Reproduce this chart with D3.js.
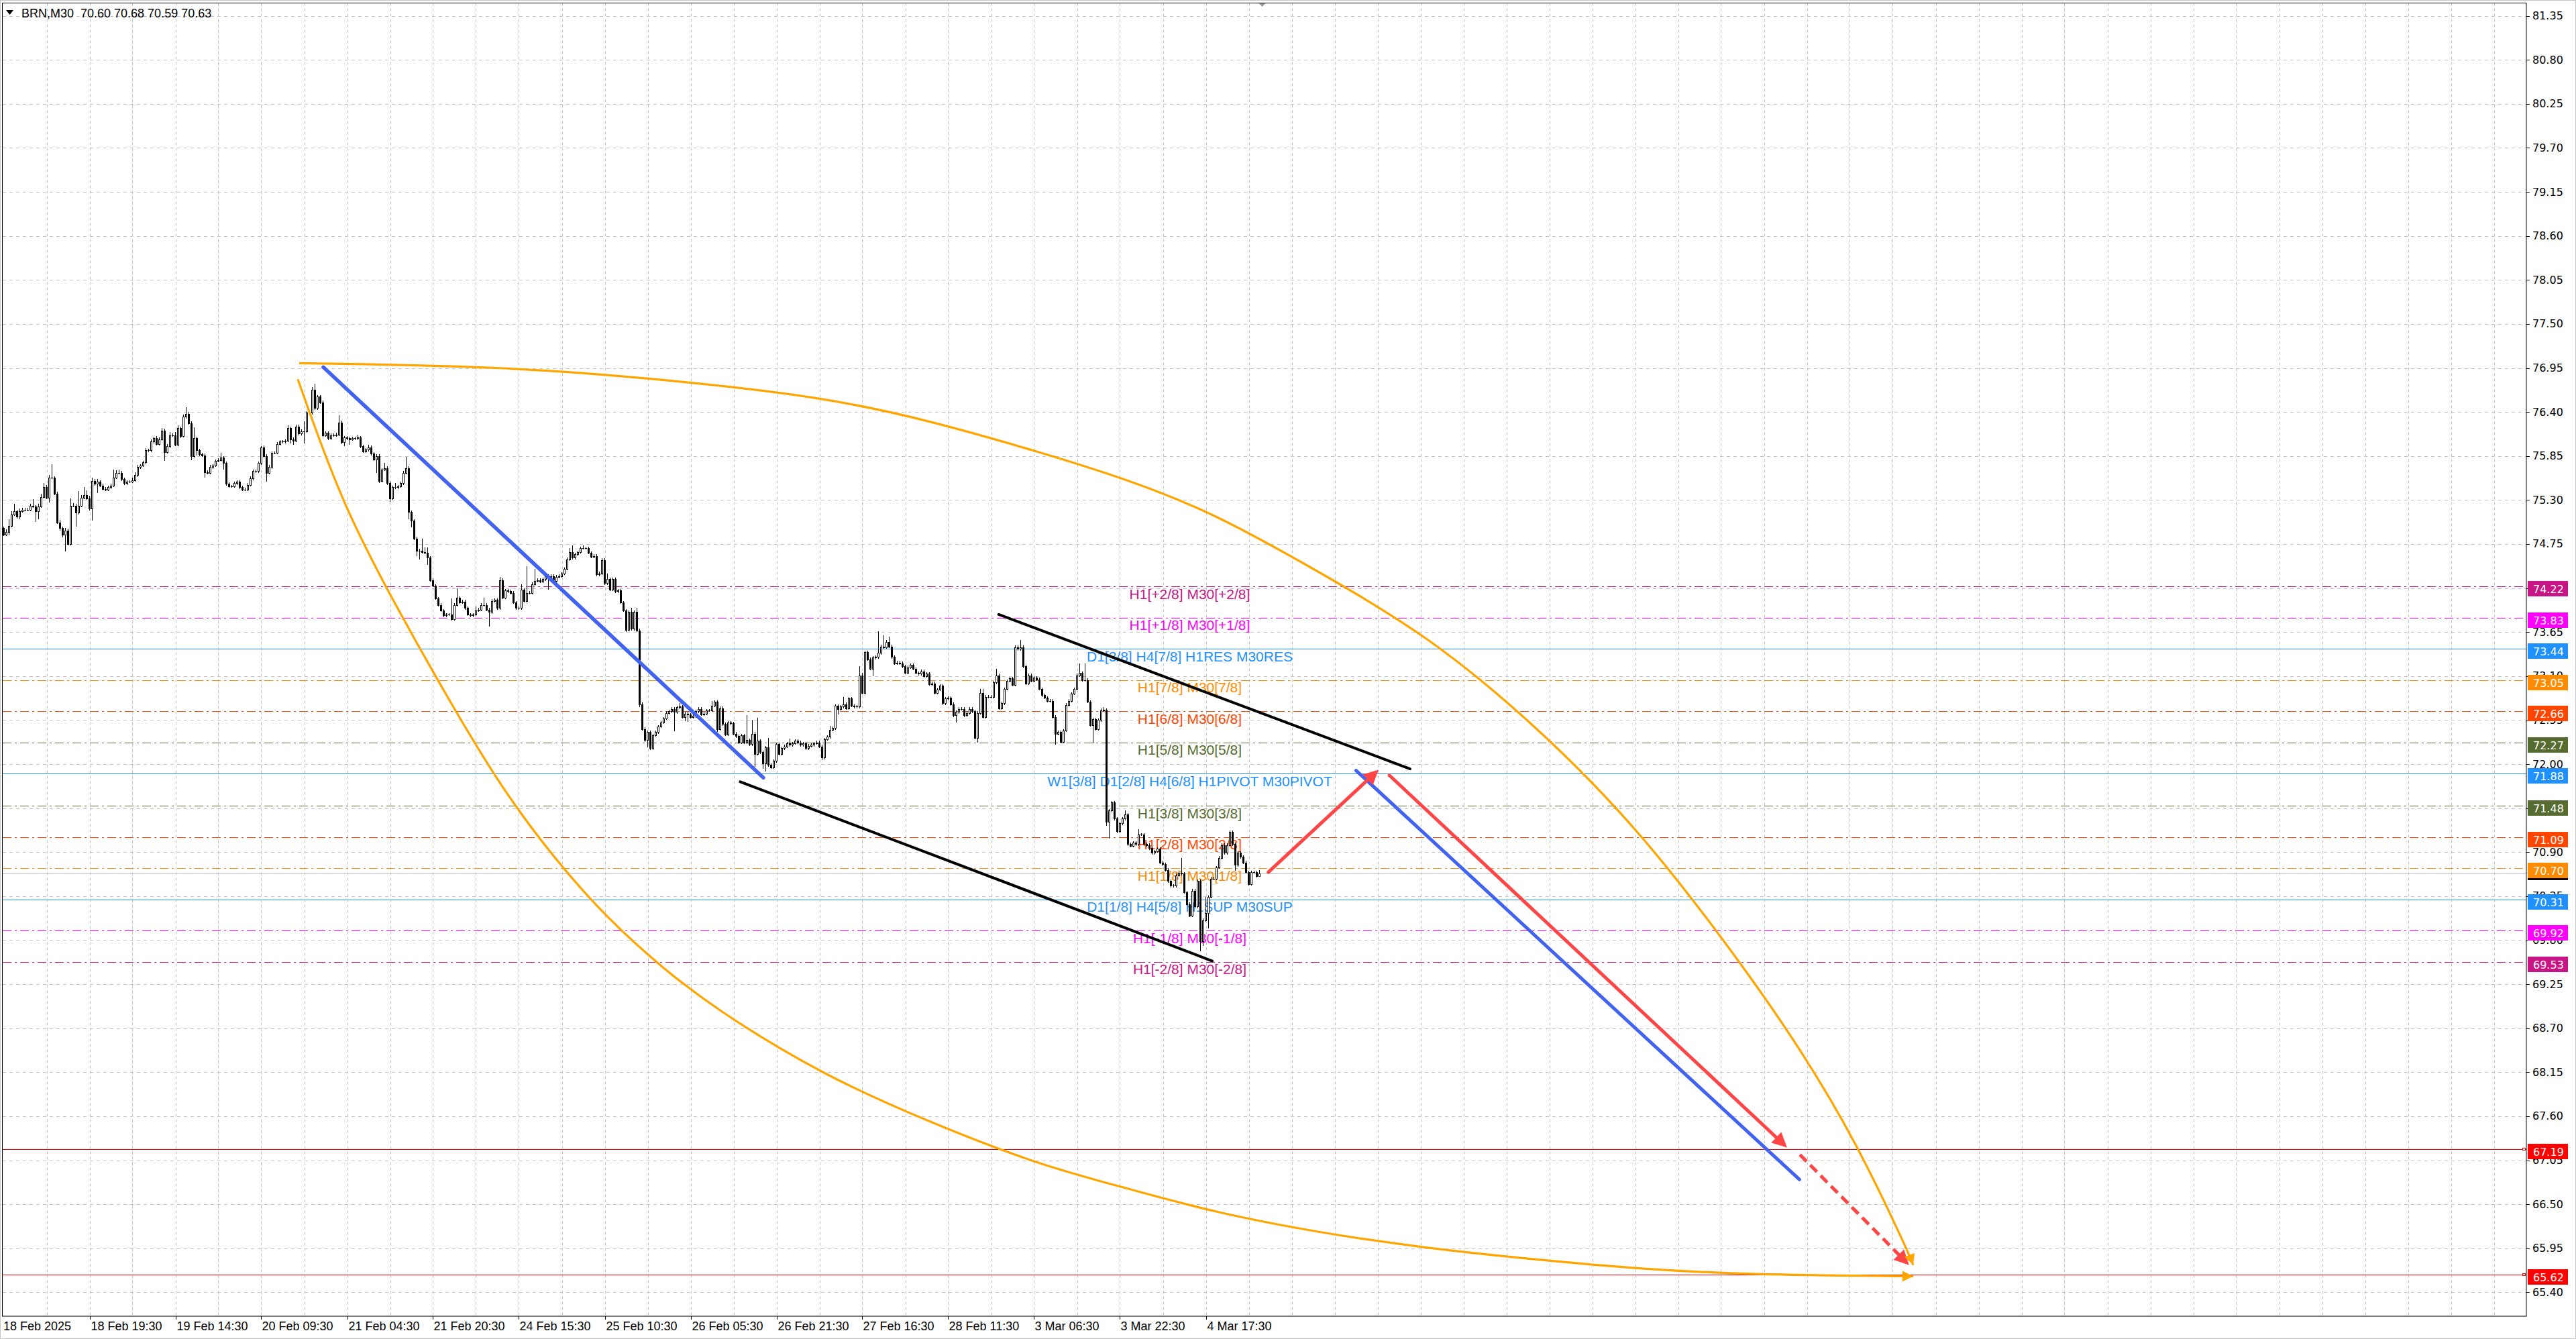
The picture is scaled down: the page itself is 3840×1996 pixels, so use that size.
<!DOCTYPE html>
<html>
<head>
<meta charset="utf-8">
<script src="https://cdn.jsdelivr.net/npm/d3@7"></script>
<style>
  body { margin: 0; background: #fff; }
  svg { display: block; }
</style>
</head>
<body>
<div id="chart"></div>
<script>
// BRN M30 closes, one per bar (open = previous close)
const firstOpen = 74.95;
const closes = [
  74.87,74.90,74.98,75.12,75.16,75.09,75.16,75.18,75.18,75.18,
  75.23,75.22,75.16,75.22,75.34,75.46,75.33,75.58,75.58,75.38,
  75.02,74.95,74.87,74.92,74.75,75.23,75.23,75.14,75.23,75.33,
  75.36,75.32,75.19,75.54,75.50,75.53,75.48,75.44,75.43,75.46,
  75.48,75.58,75.64,75.64,75.56,75.51,75.53,75.53,75.55,75.61,
  75.71,75.73,75.77,75.92,75.92,76.03,76.07,76.00,76.06,76.17,
  75.90,75.97,76.11,76.11,75.99,76.20,76.10,76.34,76.38,76.26,
  75.85,76.07,75.92,75.87,75.86,75.65,75.64,75.71,75.73,75.79,
  75.80,75.83,75.76,75.50,75.47,75.47,75.51,75.53,75.46,75.43,
  75.43,75.49,75.57,75.66,75.66,75.76,75.96,75.85,75.64,75.71,
  75.89,75.89,76.00,76.03,76.03,76.04,76.20,76.06,76.04,76.22,
  76.13,76.16,76.16,76.39,76.39,76.68,76.45,76.59,76.52,76.11,
  76.14,76.07,76.11,76.11,76.12,76.27,76.02,76.08,76.07,76.06,
  76.07,76.07,76.08,75.97,75.91,75.93,75.96,75.88,75.81,75.85,
  75.54,75.68,75.70,75.51,75.32,75.46,75.46,75.47,75.51,75.64,
  75.70,75.15,75.04,74.82,74.67,74.67,74.65,74.64,74.58,74.30,
  74.23,74.07,73.99,73.92,73.86,73.87,73.87,73.81,73.99,74.08,
  74.02,74.03,73.95,73.87,73.86,73.87,73.92,73.93,73.99,73.99,
  73.93,73.90,74.04,74.05,73.95,74.30,74.08,74.17,74.16,74.14,
  74.02,73.95,73.95,74.18,74.04,74.14,74.14,74.25,74.29,74.30,
  74.28,74.31,74.35,74.33,74.35,74.29,74.34,74.35,74.38,74.44,
  74.56,74.65,74.58,74.62,74.65,74.70,74.70,74.70,74.64,74.59,
  74.60,74.37,74.38,74.55,74.26,74.31,74.18,74.31,74.16,74.17,
  74.02,73.92,73.68,73.90,73.69,73.90,73.67,72.75,72.44,72.30,
  72.40,72.20,72.36,72.40,72.47,72.52,72.57,72.64,72.66,72.69,
  72.65,72.71,72.72,72.59,72.63,72.62,72.59,72.60,72.66,72.69,
  72.62,72.63,72.67,72.67,72.73,72.78,72.44,72.70,72.50,72.37,
  72.52,72.51,72.38,72.35,72.27,72.36,72.27,72.30,72.25,72.38,
  72.13,72.29,72.15,72.01,72.21,71.99,71.96,72.04,72.25,72.13,
  72.20,72.22,72.26,72.24,72.26,72.29,72.27,72.24,72.26,72.20,
  72.23,72.24,72.26,72.27,72.22,72.08,72.31,72.34,72.43,72.45,
  72.73,72.69,72.72,72.75,72.70,72.82,72.73,72.72,72.72,73.11,
  72.89,73.40,73.31,73.19,73.33,73.34,73.39,73.47,73.46,73.53,
  73.47,73.34,73.26,73.27,73.26,73.22,73.14,73.21,73.24,73.19,
  73.14,73.13,73.16,73.10,73.13,73.00,73.01,72.89,72.93,72.98,
  72.76,72.82,72.83,72.75,72.61,72.65,72.69,72.69,72.61,72.64,
  72.69,72.66,72.33,72.64,72.89,72.59,72.84,72.84,72.84,73.02,
  73.11,72.70,72.76,72.94,73.04,73.07,72.99,73.46,73.44,73.46,
  73.22,73.01,73.11,73.04,73.08,73.06,72.94,72.86,72.83,72.79,
  72.79,72.59,72.38,72.40,72.28,72.42,72.74,72.79,72.88,72.94,
  73.11,73.14,73.05,73.05,72.78,72.49,72.56,72.44,72.55,72.67,
  72.68,71.28,71.42,71.52,71.32,71.16,71.26,71.32,71.37,71.00,
  70.98,71.02,71.00,71.12,71.12,71.00,70.99,70.95,70.89,70.91,
  70.94,70.77,70.75,70.68,70.54,70.48,70.48,70.61,70.64,70.63,
  70.40,70.25,70.11,70.42,70.22,70.54,69.79,70.05,70.14,70.34,
  70.57,70.57,70.71,70.83,70.99,70.89,70.99,71.15,71.00,70.74,
  70.89,70.84,70.77,70.65,70.50,70.65,70.65,70.60,70.63
];
// wick lengths above / below the body, in cents
const wickUp = [
  2,3,8,4,9,2,3,2,2,2, 2,8,2,3,4,5,3,3,17,2, 2,3,2,3,2,9,3,2,18,3, 10,6,3,4,2,3,2,2,2,2,
  2,10,3,4,2,2,2,2,3,4, 3,2,2,3,2,3,2,3,2,3, 2,3,4,2,4,3,2,3,8,2, 2,14,2,2,2,2,2,3,2,2,
  2,6,2,2,2,2,2,2,2,2, 2,2,3,2,2,2,1,2,2,3, 2,2,2,2,2,2,3,2,2,2, 2,2,12,2,3,3,7,2,2,2,
  2,2,2,2,2,9,2,2,2,2, 2,2,4,2,2,2,3,2,2,2, 2,2,6,2,2,2,5,2,2,2, 14,2,2,2,2,2,15,6,7,2,
  2,2,2,2,2,2,2,20,2,12, 2,2,2,2,2,2,5,2,2,9, 2,2,2,2,2,4,2,2,2,2, 2,2,2,7,2,33,2,2,15,2,
  2,2,2,2,2,2,2,2,2,2, 2,5,8,2,2,2,3,2,2,2, 2,2,3,2,2,7,2,2,2,2, 2,2,2,2,5,2,5,2,2,2,
  2,2,2,2,2,2,2,2,2,2, 2,2,4,2,2,2,2,2,2,2, 2,2,2,2,6,2,2,2,2,2, 2,2,2,2,2,2,2,31,2,17,
  2,29,2,2,2,12,2,2,2,2, 2,2,2,6,2,2,2,2,2,2, 2,2,2,2,2,2,2,2,5,2, 2,2,2,9,2,2,2,2,2,11,
  3,2,2,2,2,2,27,2,14,2, 6,2,2,2,2,2,2,2,2,2, 2,2,2,2,2,2,2,2,2,2, 2,2,2,2,2,2,2,2,2,2,
  2,2,2,2,5,5,2,2,2,2, 8,2,2,2,2,2,2,2,2,9, 2,2,2,2,2,2,2,2,2,2, 2,2,2,2,2,2,2,2,2,2,
  2,12,2,21,2,2,2,2,2,3, 3,2,2,2,2,2,2,2,5,2, 2,2,2,7,2,2,2,2,2,2, 2,2,2,2,2,2,2,2,2,19,
  2,2,2,2,2,2,2,2,20,2, 2,2,2,2,2,2,2,2,2,2, 2,2,2,2,2,2,2,2,5
];
const wickDown = [
  2,2,3,2,2,2,3,2,2,2, 2,2,13,10,2,2,2,6,2,2, 2,3,4,21,2,2,2,17,2,2, 2,2,2,15,2,11,2,2,2,2,
  2,2,2,2,2,2,2,2,2,2, 2,2,2,2,2,2,2,2,2,2, 11,2,2,2,2,2,3,2,2,2, 5,2,6,2,2,7,2,2,2,2,
  2,2,8,2,2,2,2,2,2,2, 2,2,2,2,2,2,2,2,11,2, 2,2,2,2,2,2,2,5,5,2, 2,2,15,2,2,2,2,2,2,3,
  2,2,2,2,2,2,2,5,2,7, 2,2,2,2,2,2,2,2,2,17, 3,2,2,2,4,2,2,2,2,2, 2,9,8,2,7,11,2,2,9,2,
  2,2,2,2,2,2,2,2,2,2, 2,2,2,2,2,2,2,2,2,2, 2,18,2,2,2,2,2,2,2,2, 2,2,2,2,2,2,2,2,2,2,
  2,2,2,15,2,2,2,2,2,2, 2,2,2,2,2,2,2,2,2,2, 2,2,2,2,2,2,2,2,2,2, 2,2,3,2,2,2,2,4,2,2,
  9,2,2,2,2,2,2,2,2,2, 24,2,2,2,5,9,2,2,2,2, 2,2,2,2,2,2,4,2,2,2, 2,2,2,2,2,2,2,2,2,2,
  16,2,2,7,10,2,2,2,2,2, 2,2,2,2,2,2,2,2,2,2, 2,2,2,2,2,3,2,2,2,2, 2,7,2,2,2,2,2,2,2,2,
  2,2,2,2,9,2,2,2,2,2, 2,2,2,2,2,2,2,2,2,2, 2,2,2,2,2,2,2,2,2,2, 2,2,2,2,2,9,2,2,2,2,
  2,2,2,6,2,2,2,2,2,2, 2,2,2,2,2,2,2,2,2,2, 2,2,2,2,2,2,2,2,2,2, 2,2,14,2,2,2,2,2,2,2,
  2,2,2,2,2,2,23,2,2,2, 2,5,21,2,2,2,2,2,2,2, 2,2,2,2,2,2,2,2,2,2, 2,2,2,2,2,2,2,2,2,2,
  2,2,2,2,2,2,13,6,2,19, 2,2,2,2,2,2,2,2,2,7, 2,2,2,2,2,2,2,2,1
];

const priceTicks = [81.35,80.80,80.25,79.70,79.15,78.60,78.05,77.50,76.95,76.40,75.85,75.30,
  74.75,74.20,73.65,73.10,72.55,72.00,71.45,70.90,70.35,69.80,69.25,68.70,68.15,67.60,67.05,
  66.50,65.95,65.40];
const timeLabels = ["18 Feb 2025","18 Feb 19:30","19 Feb 14:30","20 Feb 09:30","21 Feb 04:30",
  "21 Feb 20:30","24 Feb 15:30","25 Feb 10:30","26 Feb 05:30","26 Feb 21:30","27 Feb 16:30",
  "28 Feb 11:30","3 Mar 06:30","3 Mar 22:30","4 Mar 17:30"];

// Murrey-style levels
const levelPrices = [74.22,73.83,73.44,73.05,72.66,72.27,71.88,71.48,71.09,70.70,70.31,69.92,69.53];
const levelNames = ["H1[+2/8] M30[+2/8]","H1[+1/8] M30[+1/8]","D1[3/8] H4[7/8] H1RES M30RES",
  "H1[7/8] M30[7/8]","H1[6/8] M30[6/8]","H1[5/8] M30[5/8]",
  "W1[3/8] D1[2/8] H4[6/8] H1PIVOT M30PIVOT","H1[3/8] M30[3/8]","H1[2/8] M30[2/8]",
  "H1[1/8] M30[1/8]","D1[1/8] H4[5/8] H1SUP M30SUP","H1[-1/8] M30[-1/8]","H1[-2/8] M30[-2/8]"];
const targetPrices = [67.19, 65.62];
const bidPrice = 70.63;
const titleText = "BRN,M30  70.60 70.68 70.59 70.63";

// drawn objects, as [bar, price]
const blueLine1 = [[119.1, 76.96], [283.1, 71.83]];
const channelTop = [[370.8, 73.87], [524.1, 71.94]];
const channelBottom = [[274.5, 71.78], [450.4, 69.54]];
const blueLine2 = [[504.0, 71.92], [669.2, 66.81]];
const redArrow1 = [[471.3, 70.65], [512.4, 71.93]];
const redArrow2 = [[516.4, 71.86], [664.6, 67.21]];
const redArrow3 = [[669.4, 67.12], [710.1, 65.74]];
const upperArc = [[110.1,77.01],[185.9,76.97],[245.6,76.81],[305.4,76.59],[345.4,76.29],
  [385.1,75.91],[418.6,75.56],[450.9,75.14],[490.9,74.39],[530.6,73.61],[570.6,72.50],
  [610.4,71.16],[650.4,69.38],[670.1,68.41],[690.1,67.30],[710.1,65.88],[711.6,65.74]];
const lowerArc = [[109.6,76.81],[126.1,75.25],[145.9,73.99],[165.9,72.80],[185.9,71.68],
  [205.9,70.79],[225.6,70.05],[245.6,69.45],[265.6,68.93],[305.4,68.11],[345.4,67.52],
  [385.1,67.00],[418.6,66.70],[450.9,66.40],[490.9,66.14],[530.6,65.95],[570.6,65.81],
  [610.4,65.69],[650.4,65.62],[711.6,65.60]];

// ---- styles ----
const levelColors = ["#C71585","#FF00FF","#1E90FF","#FF8C00","#FF4500","#556B2F","#1E90FF",
  "#556B2F","#FF4500","#FF8C00","#1E90FF","#FF00FF","#C71585"];
const solidLevels = new Set([2, 6, 10]);
const RED = "#FF4545", BLUE = "#4262F2", ORANGE = "#FFA500";

const W = 3840, H = 1996;
const plot = {left: 4, top: 4.5, right: 3766, bottom: 1962};

const svg = d3.select("#chart").append("svg")
  .attr("width", W).attr("height", H)
  .style("font-family", "'Liberation Sans', Arial, sans-serif");

svg.append("rect").attr("width", W).attr("height", H).attr("fill", "#fff");
svg.append("rect").attr("x", 0.5).attr("y", 0.5).attr("width", W - 1).attr("height", H - 1)
  .attr("fill", "none").attr("stroke", "#c8c8c8");

const x = d3.scaleLinear().domain([0, 940]).range([5.5, 5.5 + 4 * 940]);
const y = d3.scaleLinear().domain([65.40, 81.35]).range([1926.4, 23.6]);
const px = d => [x(d[0]), y(d[1])];

svg.append("clipPath").attr("id", "plotclip").append("rect")
  .attr("x", plot.left).attr("y", plot.top)
  .attr("width", plot.right - plot.left).attr("height", plot.bottom - plot.top);

const g = svg.append("g").attr("clip-path", "url(#plotclip)");

// grid
const gridV = d3.range(16, 940, 16);
g.selectAll(".gv").data(gridV).enter().append("line")
  .attr("x1", d => Math.round(x(d)) + 0.5).attr("x2", d => Math.round(x(d)) + 0.5)
  .attr("y1", plot.top).attr("y2", plot.bottom)
  .attr("stroke", "#c4c4c4").attr("stroke-dasharray", "4,4");
g.selectAll(".gh").data(priceTicks).enter().append("line")
  .attr("x1", plot.left).attr("x2", plot.right)
  .attr("y1", d => Math.round(y(d)) + 0.5).attr("y2", d => Math.round(y(d)) + 0.5)
  .attr("stroke", "#c4c4c4").attr("stroke-dasharray", "5,5");

// level lines
levelPrices.forEach((p, i) => {
  g.append("line")
    .attr("x1", plot.left).attr("x2", plot.right)
    .attr("y1", Math.round(y(p)) + 0.5).attr("y2", Math.round(y(p)) + 0.5)
    .attr("stroke", levelColors[i]).attr("stroke-width", 1.2)
    .attr("stroke-dasharray", solidLevels.has(i) ? null : "13,5,3,5");
});
targetPrices.forEach(p => {
  g.append("line")
    .attr("x1", plot.left).attr("x2", plot.right)
    .attr("y1", Math.round(y(p)) + 0.5).attr("y2", Math.round(y(p)) + 0.5)
    .attr("stroke", "#FF0000").attr("stroke-width", 1);
});
g.append("line")
  .attr("x1", plot.left).attr("x2", plot.right)
  .attr("y1", Math.round(y(bidPrice)) + 0.5).attr("y2", Math.round(y(bidPrice)) + 0.5)
  .attr("stroke", "#C0C0C0").attr("stroke-width", 1);

// level captions
const labelBar = 442;
levelPrices.forEach((p, i) => {
  g.append("text")
    .attr("x", x(labelBar)).attr("y", y(p) + 18.5)
    .attr("text-anchor", "middle")
    .attr("font-size", 21)
    .attr("fill", levelColors[i])
    .text(levelNames[i]);
});

// candles
const bars = closes.map((c, i) => {
  const o = i === 0 ? firstOpen : closes[i - 1];
  return {i, o, c,
    h: Math.max(o, c) + wickUp[i] / 100,
    l: Math.min(o, c) - wickDown[i] / 100};
});
const cg = g.append("g");
cg.selectAll(".wick").data(bars).enter().append("line")
  .attr("x1", d => x(d.i)).attr("x2", d => x(d.i))
  .attr("y1", d => Math.round(y(d.h))).attr("y2", d => Math.round(y(d.l)))
  .attr("stroke", "#000").attr("stroke-width", 1);
cg.selectAll(".body").data(bars).enter().append("rect")
  .attr("x", d => x(d.i) - 1)
  .attr("y", d => Math.round(y(Math.max(d.o, d.c))) + 0.5)
  .attr("width", 2)
  .attr("height", d => Math.max(0.01, Math.round(y(Math.min(d.o, d.c))) - Math.round(y(Math.max(d.o, d.c)))))
  .attr("fill", d => d.c >= d.o ? "#fff" : "#000")
  .attr("stroke", "#000").attr("stroke-width", 1);

// drawn lines
function segment(pts, color, width, dash) {
  g.append("line")
    .attr("x1", px(pts[0])[0]).attr("y1", px(pts[0])[1])
    .attr("x2", px(pts[1])[0]).attr("y2", px(pts[1])[1])
    .attr("stroke", color).attr("stroke-width", width)
    .attr("stroke-linecap", dash ? "butt" : "round")
    .attr("stroke-dasharray", dash || null);
}
function head(tip, from, color, len, half) {
  const dx = tip[0] - from[0], dy = tip[1] - from[1];
  const n = Math.hypot(dx, dy), ux = dx / n, uy = dy / n;
  const bx = tip[0] - ux * len, by = tip[1] - uy * len;
  g.append("path")
    .attr("d", `M${tip[0]},${tip[1]}L${bx - uy * half},${by + ux * half}L${bx + uy * half},${by - ux * half}Z`)
    .attr("fill", color);
}
function arrow(pts, color, width, dash) {
  const a = px(pts[0]), b = px(pts[1]);
  const n = Math.hypot(b[0] - a[0], b[1] - a[1]);
  const k = (n - 16) / n;
  const end = [a[0] + (b[0] - a[0]) * k, a[1] + (b[1] - a[1]) * k];
  g.append("line")
    .attr("x1", a[0]).attr("y1", a[1]).attr("x2", end[0]).attr("y2", end[1])
    .attr("stroke", color).attr("stroke-width", width)
    .attr("stroke-linecap", dash ? "butt" : "round")
    .attr("stroke-dasharray", dash || null);
  head(b, a, color, 22, 11);
}

segment(blueLine1, BLUE, 5.5);
segment(channelTop, "#000", 4);
segment(channelBottom, "#000", 4);
segment(blueLine2, BLUE, 5);
arrow(redArrow1, RED, 5);
arrow(redArrow2, RED, 5);
arrow(redArrow3, RED, 5, "14,8");

const curve = d3.line().x(d => x(d[0])).y(d => y(d[1])).curve(d3.curveBasis);
[upperArc, lowerArc].forEach(arc => {
  g.append("path").attr("d", curve(arc))
    .attr("fill", "none").attr("stroke", ORANGE).attr("stroke-width", 3.2);
  const n = arc.length;
  head(px(arc[n - 1]), px(arc[n - 2]), ORANGE, 16, 8);
});

// frame
svg.append("rect")
  .attr("x", plot.left - 0.5).attr("y", plot.top)
  .attr("width", plot.right - plot.left + 0.5).attr("height", plot.bottom - plot.top)
  .attr("fill", "none").attr("stroke", "#000").attr("stroke-width", 1);

// price axis
const axisX = plot.right;
priceTicks.forEach(p => {
  const yy = Math.round(y(p)) + 0.5;
  svg.append("line").attr("x1", axisX).attr("x2", axisX + 5).attr("y1", yy).attr("y2", yy)
    .attr("stroke", "#000");
  svg.append("text").attr("x", axisX + 9).attr("y", y(p))
    .attr("dominant-baseline", "central")
    .attr("font-family", "'DejaVu Sans', Verdana, sans-serif").attr("font-size", 16)
    .attr("fill", "#000").text(p.toFixed(2));
});

function priceBox(p, color, hgt) {
  const top = Math.round(y(p)) - 8;
  svg.append("rect").attr("x", axisX + 2).attr("y", top)
    .attr("width", 60).attr("height", hgt || 23).attr("fill", color);
  if (!hgt) {
    svg.append("text").attr("x", axisX + 10).attr("y", top + 12)
      .attr("dominant-baseline", "central")
      .attr("font-family", "'DejaVu Sans', Verdana, sans-serif").attr("font-size", 16)
      .attr("fill", "#fff").text(p.toFixed(2));
  }
}
priceBox(bidPrice, "#000", 18);
levelPrices.forEach((p, i) => priceBox(p, levelColors[i]));
targetPrices.forEach(p => {
  priceBox(p, "#FF0000");
  svg.append("rect").attr("x", plot.right - 5.5).attr("y", Math.round(y(p)) - 1.5)
    .attr("width", 4).attr("height", 3).attr("fill", "#fff").attr("stroke", "#FF0000");
});

// time axis
timeLabels.forEach((t, k) => {
  const xx = Math.round(x(k * 32)) + 0.5;
  if (k > 0) {
    svg.append("line").attr("x1", xx).attr("x2", xx)
      .attr("y1", plot.bottom).attr("y2", plot.bottom + 5).attr("stroke", "#000");
  }
  svg.append("text").attr("x", k === 0 ? 5 : xx + 1).attr("y", 1983)
    .attr("font-size", 18).attr("fill", "#000").text(t);
});

// title + markers
svg.append("path").attr("d", "M9,15L20,15L14.5,22Z").attr("fill", "#000");
svg.append("text").attr("x", 32).attr("y", 26).attr("font-size", 18)
  .attr("fill", "#000").attr("xml:space", "preserve").style("white-space", "pre").text(titleText);
const shiftX = x(closes.length);
svg.append("path").attr("d", `M${shiftX - 5},5L${shiftX + 5},5L${shiftX},10Z`).attr("fill", "#9a9a9a");
</script>
</body>
</html>
